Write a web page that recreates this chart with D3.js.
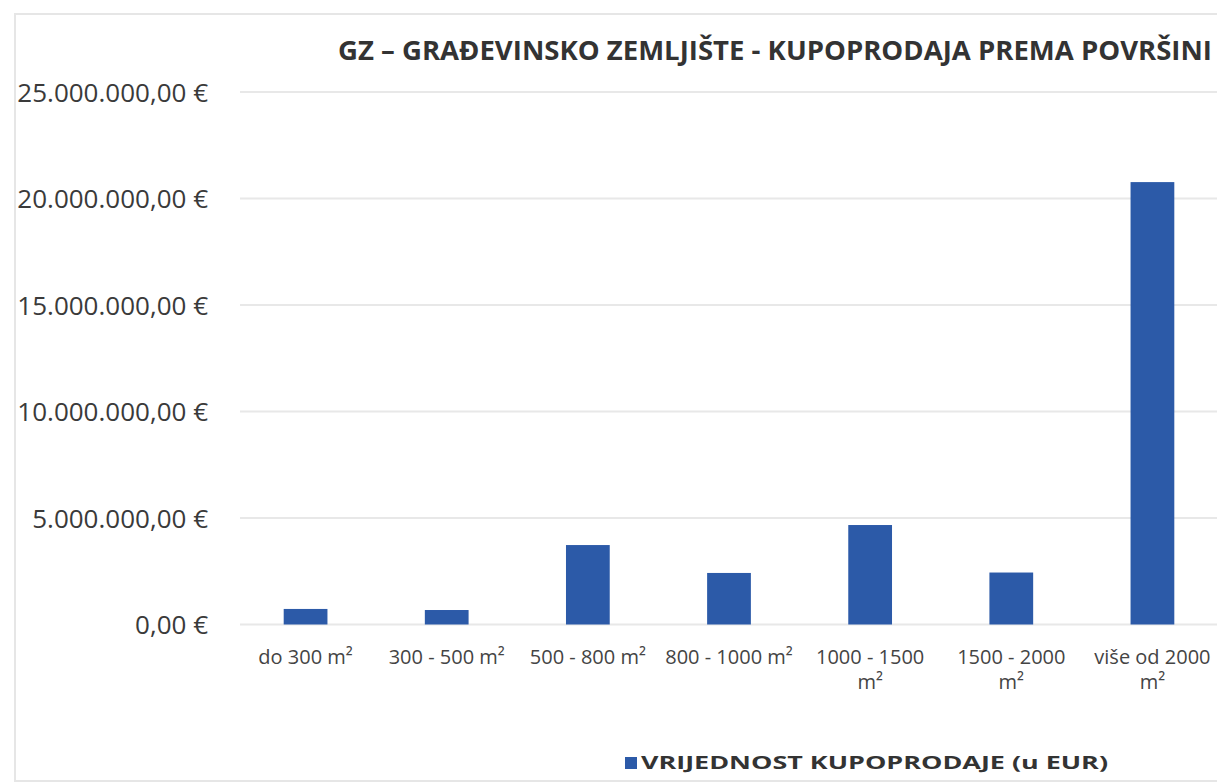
<!DOCTYPE html>
<html>
<head>
<meta charset="utf-8">
<script src="https://cdn.jsdelivr.net/npm/d3@7"></script>
<style>
  body { margin: 0; background: #fff; }
  svg { display: block; font-family: "Open Sans", sans-serif; }
</style>
</head>
<body>
<svg id="chart" width="1217" height="783"></svg>
<script>
// data
const categories = [
    ["do 300 m²"],
    ["300 - 500 m²"],
    ["500 - 800 m²"],
    ["800 - 1000 m²"],
    ["1000 - 1500", "m²"],
    ["1500 - 2000", "m²"],
    ["više od 2000", "m²"]
];
const values = [730000, 680000, 3730000, 2420000, 4670000, 2440000, 20770000];
const yTicks = [0, 5000000, 10000000, 15000000, 20000000, 25000000];
const seriesName = "VRIJEDNOST KUPOPRODAJE (u EUR)";
const title = "GZ – GRAĐEVINSKO ZEMLJIŠTE - KUPOPRODAJA PREMA POVRŠINI";

const svg = d3.select("#chart");
const barColor = "#2c5aa8";

// chart frame (cropped on the right in the original)
svg.append("rect")
    .attr("x", 15).attr("y", 14)
    .attr("width", 1300).attr("height", 767)
    .attr("fill", "none")
    .attr("stroke", "#e6e6e6")
    .attr("stroke-width", 2);

const x = d3.scaleBand()
    .domain(d3.range(categories.length))
    .range([235, 1223])
    .paddingInner(0.69)
    .paddingOuter(0.345);

const y = d3.scaleLinear()
    .domain([0, 25000000])
    .range([624.5, 92]);

const fmt = (v) => {
    const s = d3.format(",.2f")(v);
    return s.replace(/,/g, "#").replace(".", ",").replace(/#/g, ".") + " €";
};

// gridlines
svg.append("g")
    .selectAll("line")
    .data(yTicks)
    .enter()
    .append("line")
    .attr("x1", 240)
    .attr("x2", 1217)
    .attr("y1", (d) => y(d))
    .attr("y2", (d) => y(d))
    .attr("stroke", "#e8e8e8")
    .attr("stroke-width", 2);

// y labels
svg.append("g")
    .selectAll("text")
    .data(yTicks)
    .enter()
    .append("text")
    .attr("x", 208)
    .attr("y", (d) => y(d) + 3)
    .attr("text-anchor", "end")
    .attr("dominant-baseline", "middle")
    .style("font-size", "26px")
    .attr("fill", "#3a3a3a")
    .text((d) => fmt(d));

// bars
svg.append("g")
    .selectAll("rect")
    .data(values)
    .enter()
    .append("rect")
    .attr("x", (d, i) => x(i))
    .attr("width", x.bandwidth())
    .attr("y", (d) => y(d))
    .attr("height", (d) => y(0) - y(d))
    .attr("fill", barColor);

// x labels
const xl = svg.append("g")
    .selectAll("text")
    .data(categories)
    .enter()
    .append("text")
    .attr("text-anchor", "middle")
    .style("font-size", "20px")
    .attr("fill", "#444");

xl.selectAll("tspan")
    .data((d, i) => d.map((t) => ({ t, i })))
    .enter()
    .append("tspan")
    .attr("x", (d) => x(d.i) + x.bandwidth() / 2)
    .attr("y", (d, j) => 664 + j * 25)
    .text((d) => d.t);

// title
svg.append("text")
    .attr("x", 338)
    .attr("y", 60)
    .attr("textLength", 874)
    .attr("lengthAdjust", "spacingAndGlyphs")
    .style("font-size", "26px")
    .style("font-weight", "bold")
    .attr("fill", "#333")
    .text(title);

// legend
svg.append("rect")
    .attr("x", 625).attr("y", 757)
    .attr("width", 12).attr("height", 12)
    .attr("fill", barColor);

svg.append("text")
    .attr("x", 641)
    .attr("y", 769)
    .attr("textLength", 467)
    .attr("lengthAdjust", "spacingAndGlyphs")
    .style("font-size", "18px")
    .style("font-weight", "bold")
    .attr("fill", "#333")
    .text(seriesName);
</script>
</body>
</html>
